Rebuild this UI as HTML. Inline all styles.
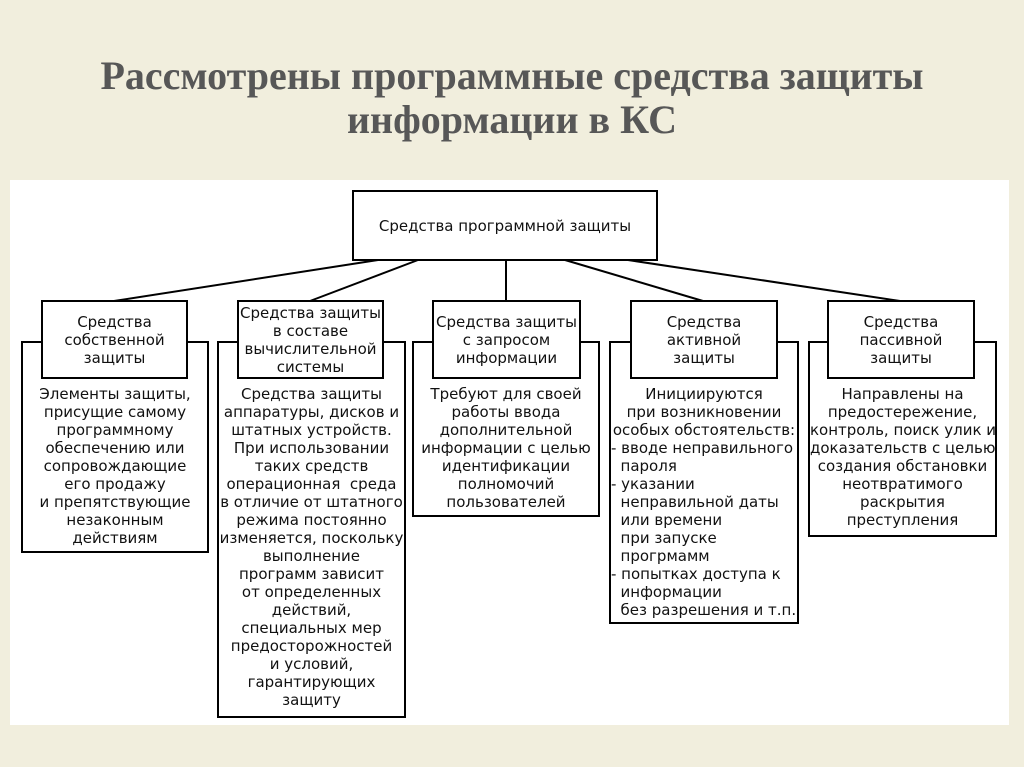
<!DOCTYPE html>
<html><head><meta charset="utf-8"><style>
body{margin:0;width:1024px;height:767px;background:#f1eedd;position:relative;overflow:hidden;font-family:"DejaVu Sans","Liberation Sans",sans-serif;}
.t{position:absolute;left:0;width:1024px;text-align:center;font-family:"Liberation Serif",serif;font-weight:bold;font-size:40px;color:#575757;}
.w{position:absolute;left:10px;top:180px;width:999px;height:545px;background:#fff;}
.b{position:absolute;border:2px solid #000;background:#fff;box-sizing:border-box;display:flex;align-items:center;justify-content:center;text-align:center;font-size:15px;line-height:18px;color:#111;}
.o{position:absolute;border:2px solid #000;box-sizing:border-box;font-size:15px;line-height:18px;color:#111;text-align:center;padding-top:42px;white-space:pre;}
.l{text-align:left;}
</style></head><body>
<div class="t" style="top:52px">Рассмотрены программные средства защиты</div>
<div class="t" style="top:96px">информации в КС</div>
<div class="w"></div>
<svg style="position:absolute;left:0;top:0" width="1024" height="767">
<g stroke="#000" stroke-width="2">
<line x1="378" y1="260" x2="114" y2="301"/>
<line x1="418" y1="260" x2="310" y2="301"/>
<line x1="506" y1="260" x2="506" y2="301"/>
<line x1="565" y1="260" x2="703" y2="301"/>
<line x1="628" y1="260" x2="900" y2="301"/>
</g></svg>
<div class="b" style="left:352px;top:190px;width:306px;height:71px">Средства программной защиты</div>

<div class="o" style="left:21px;top:341px;width:188px;height:212px">Элементы защиты,
присущие самому
программному
обеспечению или
сопровождающие
его продажу
и препятствующие
незаконным
действиям</div>
<div class="o" style="left:217px;top:341px;width:189px;height:377px">Средства защиты
аппаратуры, дисков и
штатных устройств.
При использовании
таких средств
операционная  среда
в отличие от штатного
режима постоянно
изменяется, поскольку
выполнение
программ зависит
от определенных
действий,
специальных мер
предосторожностей
и условий,
гарантирующих
защиту</div>
<div class="o" style="left:412px;top:341px;width:188px;height:176px">Требуют для своей
работы ввода
дополнительной
информации с целью
идентификации
полномочий
пользователей</div>
<div class="o" style="left:609px;top:341px;width:190px;height:283px"><div>Инициируются
при возникновении
особых обстоятельств:</div><div class="l">- вводе неправильного
  пароля
- указании
  неправильной даты
  или времени
  при запуске
  прогрмамм
- попытках доступа к
  информации
  без разрешения и т.п.</div></div>
<div class="o" style="left:808px;top:341px;width:189px;height:196px">Направлены на
предостережение,
контроль, поиск улик и
доказательств с целью
создания обстановки
неотвратимого
раскрытия
преступления</div>

<div class="b" style="left:41px;top:300px;width:147px;height:79px">Средства<br>собственной<br>защиты</div>
<div class="b" style="left:237px;top:300px;width:147px;height:79px">Средства защиты<br>в составе<br>вычислительной<br>системы</div>
<div class="b" style="left:432px;top:300px;width:149px;height:79px">Средства защиты<br>с запросом<br>информации</div>
<div class="b" style="left:630px;top:300px;width:148px;height:79px">Средства<br>активной<br>защиты</div>
<div class="b" style="left:827px;top:300px;width:148px;height:79px">Средства<br>пассивной<br>защиты</div>
</body></html>
